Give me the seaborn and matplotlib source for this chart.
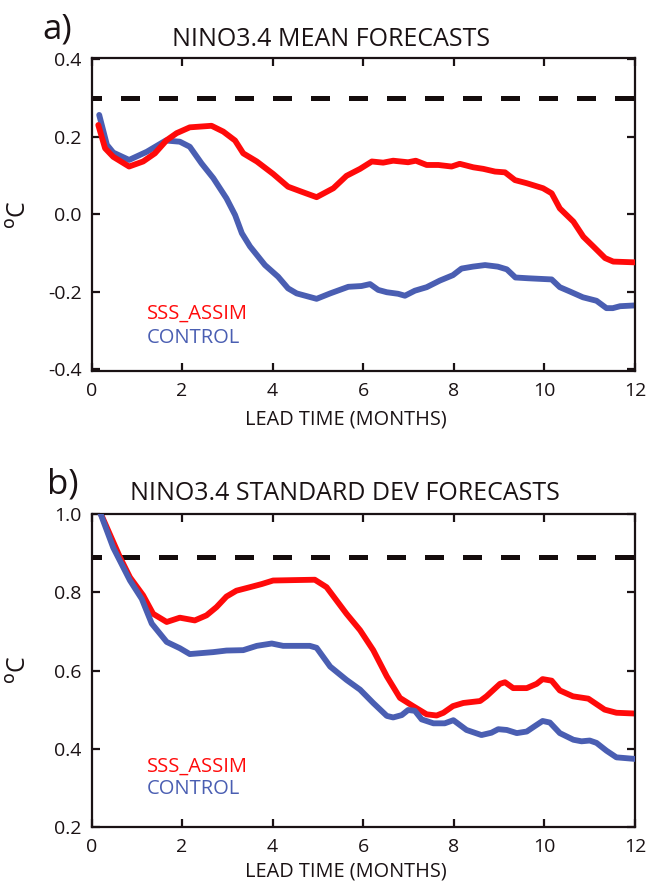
import matplotlib
matplotlib.use("Agg")
import matplotlib.pyplot as plt
import seaborn as sns

sns.set_theme(style="ticks")
plt.rcParams.update({
    'font.family': ['Open Sans', 'DejaVu Sans'],
    'axes.edgecolor': '#1a1214',
    'axes.linewidth': 1.6,
    'xtick.color': '#1a1214',
    'ytick.color': '#1a1214',
    'text.color': '#1a1214',
})

RED = "#ff0a0a"
BLUE = "#4a5eb2"
SERIES = ["SSS_ASSIM", "CONTROL"]

# ---- panel a: NINO3.4 mean forecasts (deg C) ----
lead_a_sss = [0.15, 0.30, 0.48, 0.83, 1.14, 1.40, 1.66, 1.88, 2.17, 2.65, 2.91, 3.17,
              3.35, 3.65, 4.01, 4.34, 4.64, 4.97, 5.34, 5.63, 5.93, 6.19, 6.44, 6.66,
              6.99, 7.16, 7.40, 7.66, 7.95, 8.13, 8.43, 8.65, 8.91, 9.13, 9.35, 9.61,
              9.97, 10.16, 10.34, 10.64, 10.86, 11.08, 11.34, 11.52, 12.0]
mean_sss = [0.230, 0.170, 0.148, 0.123, 0.136, 0.157, 0.191, 0.209, 0.224, 0.228, 0.213, 0.190,
            0.157, 0.136, 0.104, 0.071, 0.058, 0.044, 0.067, 0.099, 0.117, 0.136, 0.133, 0.138,
            0.134, 0.138, 0.127, 0.127, 0.123, 0.130, 0.121, 0.117, 0.110, 0.108, 0.088, 0.080,
            0.067, 0.054, 0.015, -0.019, -0.058, -0.083, -0.113, -0.122, -0.124]

lead_a_ctl = [0.17, 0.34, 0.48, 0.83, 1.22, 1.64, 1.95, 2.17, 2.43, 2.69, 2.98, 3.17,
              3.32, 3.50, 3.83, 4.12, 4.34, 4.53, 4.75, 4.97, 5.27, 5.67, 5.96, 6.15,
              6.33, 6.52, 6.77, 6.92, 7.14, 7.40, 7.69, 7.98, 8.17, 8.42, 8.69, 8.97,
              9.17, 9.36, 9.64, 10.16, 10.34, 10.56, 10.85, 11.15, 11.37, 11.51, 11.67, 12.0]
mean_ctl = [0.256, 0.179, 0.159, 0.140, 0.161, 0.190, 0.187, 0.174, 0.131, 0.093, 0.041, -0.002,
            -0.049, -0.083, -0.131, -0.161, -0.191, -0.204, -0.211, -0.218, -0.204, -0.187, -0.185, -0.180,
            -0.195, -0.201, -0.205, -0.210, -0.197, -0.188, -0.171, -0.157, -0.140, -0.135, -0.131, -0.135,
            -0.142, -0.163, -0.165, -0.168, -0.188, -0.199, -0.214, -0.223, -0.242, -0.242, -0.237, -0.235]
mean_ref = 0.30

# ---- panel b: NINO3.4 standard deviation forecasts (deg C) ----
lead_b_sss = [0.17, 0.63, 0.85, 1.14, 1.36, 1.66, 1.95, 2.28, 2.54, 2.76, 2.98, 3.20,
              3.50, 3.76, 4.01, 4.45, 4.93, 5.19, 5.63, 5.93, 6.22, 6.52, 6.81, 7.10,
              7.40, 7.62, 7.77, 7.98, 8.21, 8.58, 8.72, 9.02, 9.13, 9.31, 9.61, 9.83,
              9.96, 10.16, 10.34, 10.63, 10.97, 11.33, 11.59, 12.0]
std_sss = [1.01, 0.889, 0.838, 0.792, 0.745, 0.724, 0.735, 0.728, 0.741, 0.762, 0.789, 0.804,
           0.813, 0.821, 0.830, 0.831, 0.832, 0.813, 0.745, 0.703, 0.652, 0.585, 0.530, 0.509,
           0.488, 0.485, 0.492, 0.509, 0.517, 0.522, 0.534, 0.566, 0.570, 0.555, 0.555, 0.566,
           0.578, 0.574, 0.549, 0.534, 0.528, 0.500, 0.492, 0.490]

lead_b_ctl = [0.17, 0.48, 0.85, 1.11, 1.33, 1.66, 1.95, 2.17, 2.69, 2.98, 3.35, 3.65,
              3.98, 4.23, 4.82, 4.97, 5.27, 5.63, 5.93, 6.22, 6.52, 6.66, 6.85, 6.99,
              7.14, 7.29, 7.55, 7.80, 7.99, 8.28, 8.61, 8.83, 8.98, 9.17, 9.39, 9.61,
              9.79, 9.96, 10.12, 10.34, 10.64, 10.82, 11.0, 11.15, 11.37, 11.59, 12.0]
std_ctl = [1.01, 0.914, 0.830, 0.783, 0.720, 0.673, 0.657, 0.642, 0.647, 0.651, 0.652, 0.663,
           0.669, 0.663, 0.663, 0.658, 0.610, 0.576, 0.551, 0.517, 0.484, 0.480, 0.486, 0.499,
           0.497, 0.475, 0.465, 0.465, 0.473, 0.448, 0.435, 0.441, 0.450, 0.448, 0.440, 0.444,
           0.458, 0.471, 0.467, 0.440, 0.423, 0.419, 0.421, 0.415, 0.395, 0.378, 0.374]
std_ref = 0.89

x_ticks = [0, 2, 4, 6, 8, 10, 12]
y_ticks_a = [-0.4, -0.2, 0.0, 0.2, 0.4]
y_ticks_b = [0.2, 0.4, 0.6, 0.8, 1.0]

W, H = 646, 884
fig = plt.figure(figsize=(W / 100, H / 100), dpi=100)


def px_axes(left, top, right, bottom):
    return fig.add_axes([left / W, 1 - bottom / H, (right - left) / W, (bottom - top) / H])


def style_axes(ax, yticks, ylim):
    ax.set_xlim(0, 12)
    ax.set_ylim(*ylim)
    ax.set_xticks(x_ticks)
    ax.set_yticks(yticks)
    ax.set_yticklabels(["{:.1f}".format(v) for v in yticks])
    ax.tick_params(direction='in', top=True, right=True, length=6, width=1.6,
                   labelsize=14)
    ax.tick_params(axis='x', pad=8)
    ax.tick_params(axis='y', pad=7)
    ax.set_xlabel("")
    ax.set_ylabel("")
    for s in ax.spines.values():
        s.set_visible(True)


def ref_line(ax, y):
    ax.axhline(y, color='#140c0c', lw=3.6, linestyle=(1.9, (3.8, 3.8)), zorder=1)


# panel a
ax_a = px_axes(91.5, 57.5, 635, 371)
ref_line(ax_a, mean_ref)
sns.lineplot(x=lead_a_ctl, y=mean_ctl, color=BLUE, lw=4.2, ax=ax_a, zorder=2)
sns.lineplot(x=lead_a_sss, y=mean_sss, color=RED, lw=4.2, ax=ax_a, zorder=3)
style_axes(ax_a, y_ticks_a, (-0.404, 0.404))
ax_a.text(1.22, -0.257, SERIES[0], color=RED, fontsize=14.5, va='center', ha='left')
ax_a.text(1.22, -0.319, SERIES[1], color=BLUE, fontsize=14.5, va='center', ha='left')

# panel b
ax_b = px_axes(91.5, 514, 635, 827)
ref_line(ax_b, std_ref)
sns.lineplot(x=lead_b_sss, y=std_sss, color=RED, lw=4.2, ax=ax_b, zorder=2)
sns.lineplot(x=lead_b_ctl, y=std_ctl, color=BLUE, lw=4.2, ax=ax_b, zorder=3)
style_axes(ax_b, y_ticks_b, (0.2, 1.0))
ax_b.text(1.22, 0.353, SERIES[0], color=RED, fontsize=14.5, va='center', ha='left')
ax_b.text(1.22, 0.297, SERIES[1], color=BLUE, fontsize=14.5, va='center', ha='left')


def fig_text(x, y, s, **kw):
    fig.text(x / W, 1 - y / H, s, ha='center', va='center', **kw)


fig_text(331, 40, "NINO3.4 MEAN FORECASTS", fontsize=18)
fig_text(345, 493, "NINO3.4 STANDARD DEV FORECASTS", fontsize=18)
fig_text(57, 30, "a)", fontsize=25)
fig_text(63, 484, "b)", fontsize=25)
fig_text(346, 419, "LEAD TIME (MONTHS)", fontsize=14.3)
fig_text(346, 872, "LEAD TIME (MONTHS)", fontsize=14.3)
fig_text(19, 215, r"$^{\mathrm{o}}$C", fontsize=18, rotation=90)
fig_text(19, 670, r"$^{\mathrm{o}}$C", fontsize=18, rotation=90)

fig.savefig("out.png", dpi=100)
plt.close(fig)
